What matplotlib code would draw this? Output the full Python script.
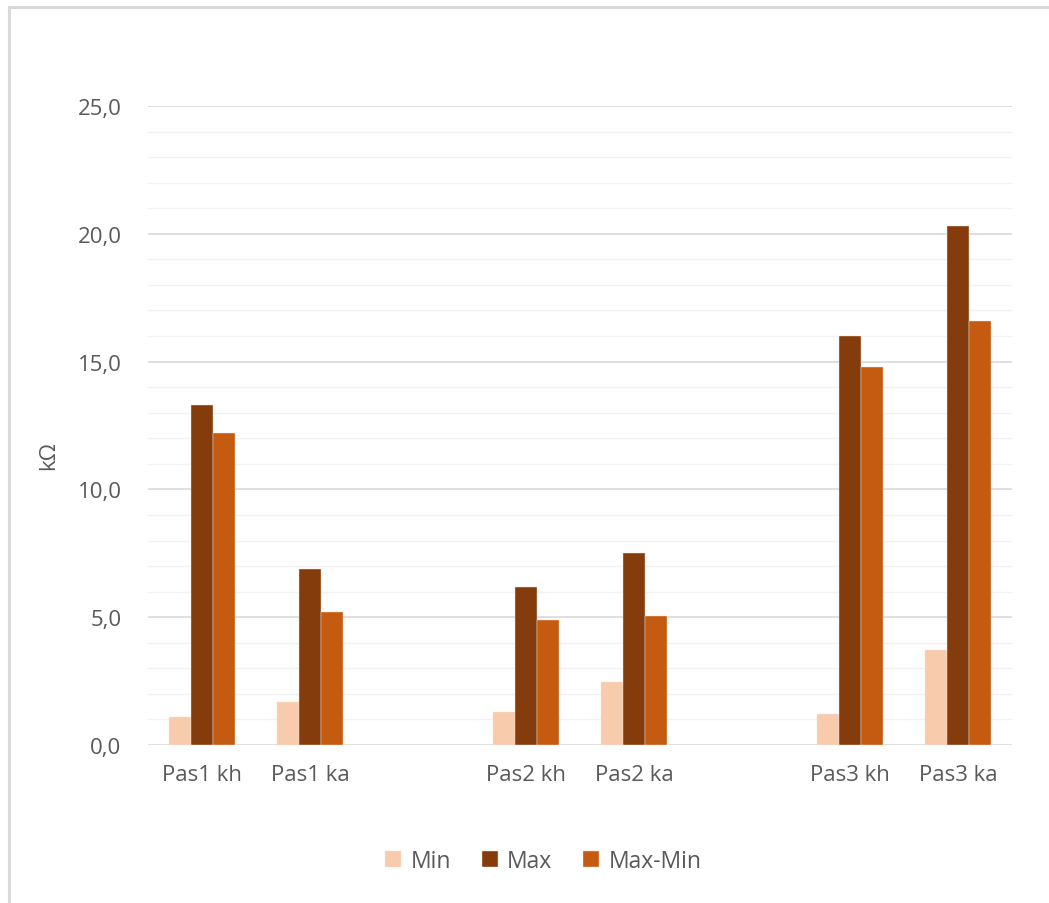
import matplotlib
matplotlib.use('Agg')
import matplotlib.pyplot as plt
from matplotlib.patches import Rectangle
from matplotlib.ticker import MultipleLocator, FuncFormatter
import numpy as np

categories = ['Pas1 kh', 'Pas1 ka', '', 'Pas2 kh', 'Pas2 ka', '', 'Pas3 kh', 'Pas3 ka']
min_vals = [1.1, 1.7, np.nan, 1.3, 2.45, np.nan, 1.2, 3.7]
max_vals = [13.3, 6.9, np.nan, 6.2, 7.5, np.nan, 16.0, 20.3]
diff_vals = [12.2, 5.2, np.nan, 4.9, 5.05, np.nan, 14.8, 16.6]
series = ['Min', 'Max', 'Max-Min']
colors = ['#F8CBAD', '#843C0C', '#C55A11']

plt.rcParams['font.family'] = ['Open Sans', 'DejaVu Sans']
text_col = '#595959'

fig = plt.figure(figsize=(10.49, 9.04), dpi=100)
ax = fig.add_axes([148/1049, 1 - 746/904, (1012-148)/1049, (746-107)/904])

x = np.arange(len(categories))
w = 0.204
for i, (vals, name, c) in enumerate(zip([min_vals, max_vals, diff_vals], series, colors)):
    ax.bar(x + (i - 1) * w, vals, width=w, color=c, label=name,
           edgecolor='#FBE3D3', linewidth=0.3, zorder=3)

ax.set_xlim(-0.5, len(categories) - 0.5)
ax.set_ylim(0, 25)
ax.yaxis.set_major_locator(MultipleLocator(5))
ax.yaxis.set_minor_locator(MultipleLocator(1))
ax.yaxis.set_major_formatter(FuncFormatter(lambda v, p: ('%.1f' % v).replace('.', ',')))
ax.grid(axis='y', which='major', color='#D9D9D9', linewidth=1.2, zorder=0)
ax.grid(axis='y', which='minor', color='#F2F2F2', linewidth=1.0, zorder=0)
for s in ax.spines.values():
    s.set_visible(False)
ax.set_xticks(x)
ax.set_xticklabels(categories)
ax.tick_params(axis='both', which='both', length=0, labelsize=16, colors=text_col)
ax.tick_params(axis='x', pad=14)
ax.tick_params(axis='y', pad=19)
ax.set_ylabel('kΩ', fontsize=16, color=text_col)
ax.yaxis.set_label_coords((59 - 148) / 864, 0.455)

fig.legend(loc='center', bbox_to_anchor=(0.518, 1 - 862/904), ncol=3, frameon=False,
           fontsize=16.5, handlelength=0.7, handleheight=0.7, handletextpad=0.4,
           columnspacing=1.35, labelcolor=text_col)

fig.patches.append(Rectangle((9/1049, -0.1), 1.2, 1 - 7.5/904 + 0.1,
                             transform=fig.transFigure, fill=False,
                             edgecolor='#D9D9D9', linewidth=2.2))

fig.savefig('out.png', dpi=100, facecolor='white')
